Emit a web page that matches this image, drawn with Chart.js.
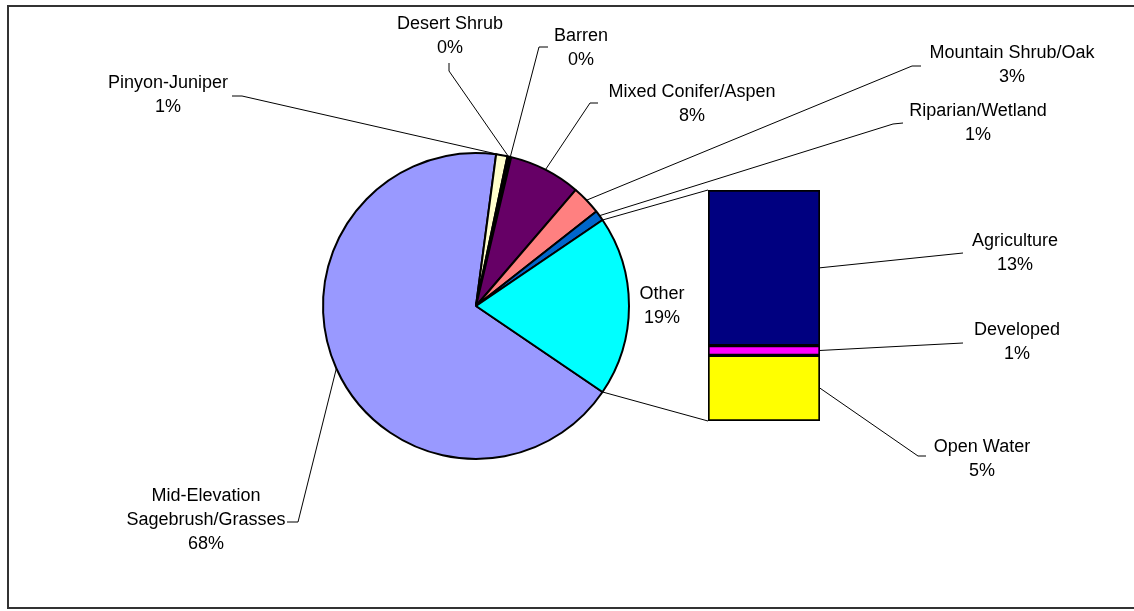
<!DOCTYPE html>
<html>
<head>
<meta charset="utf-8">
<title>Land Cover</title>
<script src="https://cdn.jsdelivr.net/npm/chart.js@4.4.0/dist/chart.umd.min.js"></script>
<style>
  html, body { margin: 0; padding: 0; background: #fff; overflow: hidden; }
  #wrap { position: relative; width: 1134px; height: 611px; overflow: hidden; }
  #frame { position: absolute; left: 7px; top: 5px; width: 1140px; height: 600px; border: 2px solid #333; }
  #pie { position: absolute; left: 0; top: 0; }
  #bar { position: absolute; left: 704px; top: 186px; }
</style>
</head>
<body>
<div id="wrap">
  <div id="frame"></div>
  <canvas id="pie" width="1134" height="611"></canvas>
  <canvas id="bar" width="120" height="239"></canvas>
</div>
<script>
'use strict';

// land cover classes in the pie, percent of area
const coverNames = [
  ['Mid-Elevation', 'Sagebrush/Grasses'],
  ['Pinyon-Juniper'],
  ['Desert Shrub'],
  ['Barren'],
  ['Mixed Conifer/Aspen'],
  ['Mountain Shrub/Oak'],
  ['Riparian/Wetland']
];
const coverValues = [67.6, 1.2, 0.2, 0.2, 7.6, 3.1, 1.1];
const coverColors = ['#9999ff', '#ffffcc', '#993366', '#ccffff', '#660066', '#ff8080', '#0066cc'];

// small classes, lumped as Other in the pie and split out in the bar
const otherName = 'Other';
const otherColor = '#00ffff';
const splitNames = ['Agriculture', 'Developed', 'Open Water'];
const splitValues = [12.8, 0.8, 5.4];
const splitColors = ['#000080', '#ff00ff', '#ffff00'];

// label placement: text centre x, first baseline y, leader start and bend
const pieSpots = [
  {x: 206, y: 501, from: [287, 522], bend: [298, 522]},
  {x: 168, y: 88, from: [232, 96], bend: [242, 96]},
  {x: 450, y: 29, from: [449, 63], bend: [449, 71]},
  {x: 581, y: 41, from: [548, 47], bend: [539, 47]},
  {x: 692, y: 97, from: [598, 103], bend: [590, 103]},
  {x: 1012, y: 58, from: [921, 66], bend: [912, 66]},
  {x: 978, y: 116, from: [903, 123], bend: [893, 124]},
  {x: 662, y: 299}
];
const barSpots = [
  {x: 1015, y: 246, from: [963, 253]},
  {x: 1017, y: 335, from: [963, 343]},
  {x: 982, y: 452, from: [926, 456], bend: [918, 456]}
];

const labelFont = '18px "Liberation Sans", Arial, sans-serif';
const lineGap = 24;

let otherValue = 0;
for (let i = 0; i < splitValues.length; i++) {
  otherValue += splitValues[i];
}
let pieValues = coverValues.concat([otherValue]);
let pieNames = coverNames.concat([[otherName]]);
let pieColors = coverColors.concat([otherColor]);
let total = 0;
for (let i = 0; i < pieValues.length; i++) {
  total += pieValues[i];
}

function pct(v) {
  return Math.round(v / total * 100) + '%';
}

//bar chart (stacked, bottom segment first)
let barSets = [];
for (let i = splitNames.length - 1; i >= 0; i--) {
  barSets.push({
    label: splitNames[i],
    data: [splitValues[i]],
    backgroundColor: splitColors[i],
    borderColor: '#000',
    borderWidth: 2,
    borderSkipped: false,
    categoryPercentage: 1,
    barPercentage: 1
  });
}

let barCanvas = document.getElementById('bar');
let barChart = new Chart(barCanvas, {
  type: 'bar',
  data: { labels: [otherName], datasets: barSets },
  options: {
    responsive: false,
    animation: false,
    layout: { padding: 4 },
    plugins: { legend: { display: false }, tooltip: { enabled: false } },
    scales: {
      x: { stacked: true, display: false },
      y: { stacked: true, display: false, min: 0, max: otherValue }
    }
  }
});

function drawLabel(ctx, lines, x, y) {
  ctx.fillStyle = '#000';
  ctx.font = labelFont;
  ctx.textAlign = 'center';
  ctx.textBaseline = 'alphabetic';
  for (let i = 0; i < lines.length; i++) {
    ctx.fillText(lines[i], x, y + i * lineGap);
  }
}

function polyline(ctx, pts) {
  ctx.beginPath();
  ctx.moveTo(pts[0][0], pts[0][1]);
  for (let i = 1; i < pts.length; i++) {
    ctx.lineTo(pts[i][0], pts[i][1]);
  }
  ctx.stroke();
}

// labels, leader lines and the two lines joining Other to the bar
const callouts = {
  id: 'callouts',
  afterDraw(chart) {
    let ctx = chart.ctx;
    let arcs = chart.getDatasetMeta(0).data;
    ctx.save();
    ctx.strokeStyle = '#000';
    ctx.lineWidth = 1;

    let ox = barCanvas.offsetLeft;
    let oy = barCanvas.offsetTop;
    let topEl = barChart.getDatasetMeta(barSets.length - 1).data[0];
    let botEl = barChart.getDatasetMeta(0).data[0];
    let barLeft = ox + topEl.x - topEl.width / 2;
    let barRight = ox + topEl.x + topEl.width / 2;

    let other = arcs[arcs.length - 1];
    let r = other.outerRadius;
    polyline(ctx, [
      [other.x + r * Math.cos(other.startAngle), other.y + r * Math.sin(other.startAngle)],
      [barLeft, oy + topEl.y]
    ]);
    polyline(ctx, [
      [other.x + r * Math.cos(other.endAngle), other.y + r * Math.sin(other.endAngle)],
      [barLeft, oy + botEl.base]
    ]);

    for (let i = 0; i < arcs.length; i++) {
      let a = arcs[i];
      let s = pieSpots[i];
      if (s.from) {
        let mid = (a.startAngle + a.endAngle) / 2;
        let tip = [a.x + a.outerRadius * Math.cos(mid), a.y + a.outerRadius * Math.sin(mid)];
        polyline(ctx, [s.from, s.bend, tip]);
      }
      drawLabel(ctx, pieNames[i].concat([pct(pieValues[i])]), s.x, s.y);
    }

    for (let i = 0; i < splitNames.length; i++) {
      let el = barChart.getDatasetMeta(splitNames.length - 1 - i).data[0];
      let s = barSpots[i];
      let tip = [barRight, oy + (el.y + el.base) / 2];
      let pts = [s.from];
      if (s.bend) pts.push(s.bend);
      pts.push(tip);
      polyline(ctx, pts);
      drawLabel(ctx, [splitNames[i], pct(splitValues[i])], s.x, s.y);
    }
    ctx.restore();
  }
};

//pie chart, Other slice centred on the horizontal
let pieChart = new Chart(document.getElementById('pie'), {
  type: 'pie',
  data: {
    labels: pieNames,
    datasets: [{
      data: pieValues,
      backgroundColor: pieColors,
      borderColor: '#000',
      borderWidth: 2
    }]
  },
  options: {
    responsive: false,
    animation: false,
    rotation: 90 + 180 * otherValue / total,
    layout: { padding: { left: 322, right: 504, top: 152, bottom: 151 } },
    plugins: { legend: { display: false }, tooltip: { enabled: false } }
  },
  plugins: [callouts]
});
</script>
</body>
</html>
